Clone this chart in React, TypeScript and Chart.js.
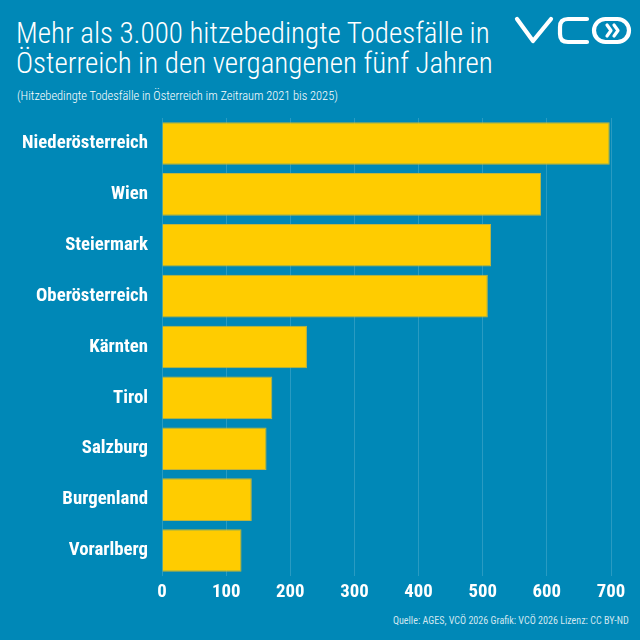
import React, { useEffect, useRef } from "react";
import { Chart, registerables } from "chart.js";

Chart.register(...registerables);

const categories = [
  "Niederösterreich",
  "Wien",
  "Steiermark",
  "Oberösterreich",
  "Kärnten",
  "Tirol",
  "Salzburg",
  "Burgenland",
  "Vorarlberg",
];
const deaths = [698, 591, 513, 508, 226, 172, 163, 140, 124];
const xTicks = [0, 100, 200, 300, 400, 500, 600, 700];

const title = ["Mehr als 3.000 hitzebedingte Todesfälle in", "Österreich in den vergangenen fünf Jahren"];
const subtitle = "(Hitzebedingte Todesfälle in Österreich im Zeitraum 2021 bis 2025)";
const footer = "Quelle: AGES, VCÖ 2026 Grafik: VCÖ 2026 Lizenz: CC BY-ND";

const BG = "#0088b7";
const COND = "'Roboto Condensed', Roboto, sans-serif";

export default function App() {
  const ref = useRef<HTMLCanvasElement | null>(null);

  useEffect(() => {
    if (!ref.current) return;
    const tickFont = { family: COND, size: 18.8, weight: "bold condensed" as any };
    const chart = new Chart(ref.current, {
      type: "bar",
      data: {
        labels: categories,
        datasets: [
          {
            data: deaths,
            backgroundColor: "#ffcc00",
            borderColor: "#c2b43c",
            borderWidth: 1,
            barPercentage: 0.837,
            categoryPercentage: 1,
          },
        ],
      },
      options: {
        indexAxis: "y",
        animation: false,
        responsive: false,
        maintainAspectRatio: false,
        layout: { padding: { top: 8, right: 29, left: 0, bottom: 0 } },
        plugins: { legend: { display: false }, tooltip: { enabled: false } },
        scales: {
          x: {
            min: 0,
            max: 700,
            afterBuildTicks: (scale: any) => {
              scale.ticks = xTicks.map((v) => ({ value: v }));
            },
            afterFit: (scale: any) => {
              scale.height = 34;
              scale.paddingLeft = 0;
              scale.paddingRight = 0;
            },
            grid: { color: "rgba(255,255,255,0.16)", lineWidth: 1, drawTicks: false },
            border: { display: false },
            ticks: { color: "#ffffff", padding: 5, font: tickFont },
          },
          y: {
            afterFit: (scale: any) => {
              scale.width = 162;
              scale.paddingTop = 0;
              scale.paddingBottom = 0;
            },
            grid: { display: false, drawTicks: false },
            border: { display: false },
            ticks: { color: "#ffffff", padding: 14, font: tickFont },
          },
        },
      },
    });
    return () => chart.destroy();
  }, []);

  return (
    <div
      style={{
        position: "absolute",
        left: 0,
        top: 0,
        width: 640,
        height: 640,
        background: BG,
        overflow: "hidden",
        fontFamily: COND,
        fontStretch: "condensed",
        color: "#ffffff",
      }}
    >
      <div
        style={{
          position: "absolute",
          left: 16,
          top: 17.5,
          fontSize: 29,
          lineHeight: "30px",
          fontWeight: 300,
          whiteSpace: "nowrap",
        }}
      >
        {title[0]}
        <br />
        {title[1]}
      </div>
      <div
        style={{
          position: "absolute",
          left: 17,
          top: 88,
          fontSize: 12.4,
          lineHeight: "16px",
          fontWeight: 300,
          whiteSpace: "nowrap",
        }}
      >
        {subtitle}
      </div>
      <svg
        width={120}
        height={40}
        viewBox="0 0 120 40"
        style={{ position: "absolute", left: 512, top: 10 }}
      >
        <g fill="none" stroke="#ffffff" strokeWidth={4.2} strokeLinecap="round" strokeLinejoin="round">
          <path d="M5 9 L21 31 L39 9" />
          <path d="M75 9 L56 9 Q48 9 48 17 L48 24 Q48 32 56 32 L75 32" />
          <rect x={82} y={9} width={35} height={23} rx={11.5} />
          <path d="M95 15 L99 20.5 L95 26" strokeWidth={3.2} />
          <path d="M102 15 L106 20.5 L102 26" strokeWidth={3.2} />
        </g>
      </svg>
      <canvas
        ref={ref}
        width={640}
        height={500}
        style={{ position: "absolute", left: 0, top: 110, width: 640, height: 500 }}
      />
      <div
        style={{
          position: "absolute",
          right: 11,
          top: 614,
          fontSize: 11,
          lineHeight: "14px",
          color: "#cfe6f0",
          whiteSpace: "nowrap",
          transform: "scaleX(0.915)",
          transformOrigin: "right center",
        }}
      >
        {footer}
      </div>
    </div>
  );
}
